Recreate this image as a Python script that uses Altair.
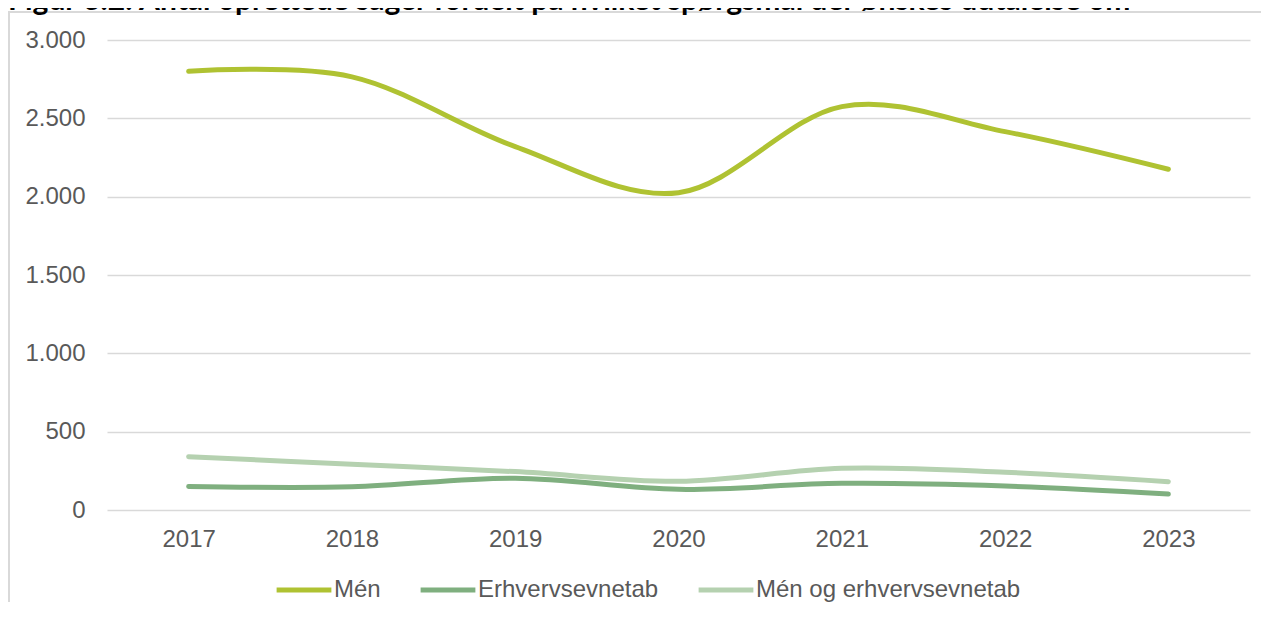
import altair as alt
import pandas as pd

years = ["2017", "2018", "2019", "2020", "2021", "2022", "2023"]
men = [2800, 2765, 2320, 2025, 2575, 2415, 2175]
erhverv = [150, 148, 203, 132, 170, 153, 102]
men_og_erhverv = [340, 292, 245, 183, 266, 241, 181]

series_names = ["Mén", "Erhvervsevnetab", "Mén og erhvervsevnetab"]
series_colors = ["#AFC232", "#7FAF7F", "#B5D1B0"]
title_text = "Figur 3.2: Antal oprettede sager fordelt på hvilket spørgsmål der ønskes udtalelse om"

rows = []
for name, vals in zip(series_names, [men, erhverv, men_og_erhverv]):
    for y, v in zip(years, vals):
        rows.append({"År": y, "Antal": v, "Serie": name})
df = pd.DataFrame(rows)

W, H = 1143, 470
PAD = {"left": 99, "top": 32, "right": 11, "bottom": 92}
FONT = "Liberation Sans"
GREY = "#595959"
FS = 24

lines = alt.Chart(df).mark_line(
    interpolate="cardinal", strokeWidth=5, strokeCap="round"
).encode(
    x=alt.X("År:N", sort=years,
            scale=alt.Scale(type="point", padding=0.5),
            axis=alt.Axis(title=None, labelAngle=0, ticks=False, domain=False,
                          grid=False, labelFontSize=FS, labelColor=GREY,
                          labelFont=FONT, labelPadding=17)),
    y=alt.Y("Antal:Q", scale=alt.Scale(domain=[0, 3000], nice=False),
            axis=alt.Axis(title=None, values=[0, 500, 1000, 1500, 2000, 2500, 3000],
                          ticks=False, domain=False, grid=True,
                          gridColor="#D9D9D9", gridWidth=1.5,
                          labelFontSize=FS, labelColor=GREY, labelFont=FONT,
                          labelPadding=22,
                          labelExpr="replace(format(datum.value, ','), ',', '.')")),
    color=alt.Color("Serie:N", sort=series_names,
                    scale=alt.Scale(domain=series_names, range=series_colors),
                    legend=alt.Legend(title=None, orient="none", direction="horizontal",
                                      legendX=167, legendY=520,
                                      symbolType="stroke", symbolSize=3000,
                                      symbolStrokeWidth=5, labelFontSize=FS,
                                      labelColor=GREY, labelFont=FONT,
                                      labelLimit=0,
                                      labelOffset=0, columnPadding=29)),
)

one = pd.DataFrame({"a": [0]})
frame = alt.Chart(one).mark_rect(fill=None, fillOpacity=0, stroke="#D9D9D9",
                                 strokeWidth=2).encode(
    x=alt.value(-98), x2=alt.value(W + PAD["right"] + 40),
    y=alt.value(-28), y2=alt.value(H + PAD["bottom"] + 40))
title = alt.Chart(one).mark_text(
    text=title_text, align="left", baseline="alphabetic", fontSize=30,
    fontWeight="bold", font="Lato", color="#000000"
).encode(x=alt.value(-99), y=alt.value(-30))

chart = alt.layer(frame, title, lines).properties(
    width=W, height=H,
    autosize=alt.AutoSizeParams(type="none"),
    padding=PAD,
).configure_view(stroke=None)

chart.save("out.html", embed_options={"renderer": "svg", "actions": False})
